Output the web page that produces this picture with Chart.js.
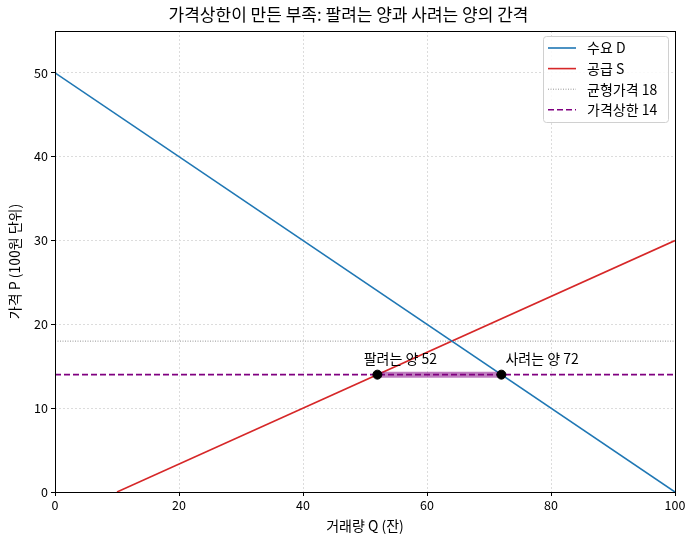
<!DOCTYPE html>
<html>
<head>
<meta charset="utf-8">
<script src="https://cdn.jsdelivr.net/npm/chart.js@4/dist/chart.umd.min.js"></script>
<style>
  html, body { margin: 0; padding: 0; background: #fff; }
  #wrap { width: 696px; height: 545px; }
</style>
</head>
<body>
<div id="wrap"><canvas id="gapChart" width="696" height="545"></canvas></div>
<script>
// 수요·공급 곡선 (양 끝점)
const demandQ = [0, 100];
const demandP = [50, 0];
const supplyQ = [10, 100];
const supplyP = [0, 30];
// 기준 가격
const eqPrice = 18;
const ceilingPrice = 14;
// 가격상한에서의 양
const sellQty = 52;
const buyQty = 72;
const xTicks = [0, 20, 40, 60, 80, 100];
const yTicks = [0, 10, 20, 30, 40, 50];

const FONT = "'Noto Sans CJK KR', 'Noto Sans', sans-serif";

function pts(xs, ys) {
    return xs.map((x, i) => ({ x: x, y: ys[i] }));
}

// 축 박스 그리기
const boxPlugin = {
    id: 'box',
    afterDatasetsDraw(chart) {
        const a = chart.chartArea, c = chart.ctx;
        c.save();
        c.strokeStyle = '#000';
        c.lineWidth = 1;
        c.strokeRect(Math.round(a.left) + 0.5, Math.round(a.top) + 0.5,
            Math.round(a.right - a.left), Math.round(a.bottom - a.top));
        c.restore();
    }
};

// 점 옆 라벨
const labelPlugin = {
    id: 'labels',
    afterDatasetsDraw(chart) {
        const c = chart.ctx, xs = chart.scales.x, ys = chart.scales.y;
        c.save();
        c.font = '14px ' + FONT;
        c.fillStyle = '#000';
        c.textBaseline = 'middle';
        const y = ys.getPixelForValue(ceilingPrice) - 16;
        c.textAlign = 'center';
        c.fillText('팔려는 양 ' + sellQty, xs.getPixelForValue(sellQty) + 23, y);
        c.textAlign = 'left';
        c.fillText('사려는 양 ' + buyQty, xs.getPixelForValue(buyQty) + 4, y);
        c.restore();
    }
};

// 그래프 안쪽 범례
const legendPlugin = {
    id: 'innerLegend',
    afterDraw(chart) {
        const c = chart.ctx, a = chart.chartArea;
        const items = chart.data.datasets.filter(d => d.inLegend);
        const w = 125, h = 86;
        const x0 = Math.round(a.right) - 7 - w, y0 = Math.round(a.top) + 5;
        c.save();
        c.fillStyle = 'rgba(255,255,255,0.85)';
        c.strokeStyle = '#d0d0d0';
        c.lineWidth = 1;
        c.beginPath();
        c.roundRect(x0 + 0.5, y0 + 0.5, w, h, 3);
        c.fill();
        c.stroke();
        c.font = '14px ' + FONT;
        c.textBaseline = 'middle';
        c.textAlign = 'left';
        items.forEach((d, i) => {
            const yy = y0 + 12 + i * 20.6;
            c.strokeStyle = d.borderColor;
            c.lineWidth = d.borderWidth;
            c.setLineDash(d.borderDash || []);
            c.beginPath();
            c.moveTo(x0 + 5, yy);
            c.lineTo(x0 + 33, yy);
            c.stroke();
            c.setLineDash([]);
            c.fillStyle = '#000';
            c.fillText(d.label, x0 + 44, yy);
        });
        c.restore();
    }
};

const ctx = document.getElementById('gapChart').getContext('2d');
new Chart(ctx, {
    type: 'scatter',
    data: {
        datasets: [{
            label: '수요 D',
            data: pts(demandQ, demandP),
            showLine: true,
            borderColor: '#1f77b4',
            borderWidth: 1.6,
            pointRadius: 0,
            inLegend: true,
            order: 4
        }, {
            label: '공급 S',
            data: pts(supplyQ, supplyP),
            showLine: true,
            borderColor: '#d62728',
            borderWidth: 1.6,
            pointRadius: 0,
            inLegend: true,
            order: 4
        }, {
            label: '균형가격 ' + eqPrice,
            data: pts([xTicks[0], xTicks[xTicks.length - 1]], [eqPrice, eqPrice]),
            showLine: true,
            borderColor: '#7a7a7a',
            borderWidth: 0.8,
            borderDash: [1, 1.5],
            pointRadius: 0,
            inLegend: true,
            order: 4
        }, {
            label: '부족',
            data: pts([sellQty, buyQty], [ceilingPrice, ceilingPrice]),
            showLine: true,
            borderColor: 'rgba(128,0,128,0.5)',
            borderWidth: 6,
            pointRadius: 0,
            order: 3
        }, {
            label: '가격상한 ' + ceilingPrice,
            data: pts([xTicks[0], xTicks[xTicks.length - 1]], [ceilingPrice, ceilingPrice]),
            showLine: true,
            borderColor: '#800080',
            borderWidth: 1.6,
            borderDash: [6, 3],
            pointRadius: 0,
            inLegend: true,
            order: 2
        }, {
            label: '점',
            data: pts([sellQty, buyQty], [ceilingPrice, ceilingPrice]),
            showLine: false,
            backgroundColor: '#000',
            borderColor: '#000',
            pointRadius: 4.5,
            order: 0
        }]
    },
    options: {
        responsive: false,
        animation: false,
        layout: { padding: { left: 22, right: 21, top: 0, bottom: 6 } },
        plugins: {
            legend: { display: false },
            tooltip: { enabled: false },
            title: {
                display: true,
                text: '가격상한이 만든 부족: 팔려는 양과 사려는 양의 간격',
                color: '#000',
                font: { family: FONT, size: 17, weight: 'normal' },
                padding: { top: 4, bottom: 6.6 }
            }
        },
        scales: {
            x: {
                type: 'linear',
                min: 0, max: 100,
                afterBuildTicks(s) { s.ticks = xTicks.map(v => ({ value: v })); },
                afterFit(s) { s.height = 47; },
                title: {
                    display: true,
                    text: '거래량 Q (잔)',
                    color: '#000',
                    font: { family: FONT, size: 14 },
                    padding: { top: 0, bottom: 5 }
                },
                ticks: { color: '#000', font: { family: FONT, size: 12.5 }, padding: 2, maxRotation: 0 },
                grid: { color: '#dcdcdc', tickColor: '#000', tickLength: 4, tickBorderDash: [] },
                border: { display: false, dash: [2, 2] }
            },
            y: {
                type: 'linear',
                min: 0, max: 55,
                afterBuildTicks(s) { s.ticks = yTicks.map(v => ({ value: v })); },
                afterFit(s) { s.width = 33; },
                title: {
                    display: true,
                    text: '가격 P (100원 단위)',
                    color: '#000',
                    font: { family: FONT, size: 14 },
                    padding: { top: -16, bottom: 0 }
                },
                ticks: { color: '#000', font: { family: FONT, size: 12.5 }, padding: 3 },
                grid: { color: '#dcdcdc', tickColor: '#000', tickLength: 4, tickBorderDash: [] },
                border: { display: false, dash: [2, 2] }
            }
        }
    },
    plugins: [boxPlugin, labelPlugin, legendPlugin]
});
</script>
</body>
</html>
